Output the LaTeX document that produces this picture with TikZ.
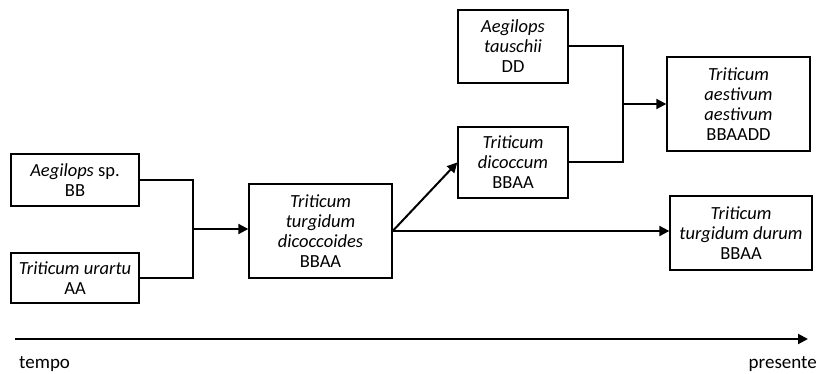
\documentclass[tikz,border=0pt]{standalone}
\usepackage{fontspec}
\setmainfont{Carlito}
\usetikzlibrary{arrows.meta}
\begin{document}
\begin{tikzpicture}[x=1pt,y=-1pt,
  box/.style={draw,line width=1.4pt,align=center,inner sep=1pt,font=\fontsize{18.5}{20}\selectfont},
  conn/.style={line width=2pt},
  arr/.style={conn,-{Triangle[length=10pt,width=10pt]}},
  lbl/.style={font=\fontsize{19}{22}\selectfont,inner sep=0pt}]
\useasboundingbox (0,0) rectangle (819,374);
\node[box,minimum width=128pt,minimum height=52pt] (asp) at (75,180) {\textit{Aegilops} sp.\\BB};
\node[box,minimum width=128pt,minimum height=50pt] (tur) at (75,278) {\textit{Triticum urartu}\\AA};
\node[box,minimum width=143pt,minimum height=94pt] (dic) at (320.5,231) {\textit{Triticum}\\\textit{turgidum}\\\textit{dicoccoides}\\BBAA};
\node[box,minimum width=110pt,minimum height=73pt] (tau) at (513,46.5) {\textit{Aegilops}\\\textit{tauschii}\\DD};
\node[box,minimum width=110pt,minimum height=71pt] (dcm) at (513,162.5) {\textit{Triticum}\\\textit{dicoccum}\\BBAA};
\node[box,minimum width=143pt,minimum height=94pt] (aes) at (738.5,104) {\textit{Triticum}\\\textit{aestivum}\\\textit{aestivum}\\BBAADD};
\node[box,minimum width=142pt,minimum height=74pt] (dur) at (741,233) {\textit{Triticum}\\\textit{turgidum durum}\\BBAA};
\coordinate (j1) at (193,229);
\coordinate (j2) at (623,104);
\draw[conn] (asp.east) -| (j1) |- (tur.east);
\draw[arr] (j1) -- (j1 -| dic.west);
\draw[conn] (tau.east) -| (j2) |- (dcm.east);
\draw[arr] (j2) -- (aes.west);
\draw[arr] (dic.east) -- (dcm.west);
\draw[arr] (dic.east) -- (dic.east -| dur.west);
\coordinate (t0) at (15,339);
\coordinate (t1) at (808,339);
\draw[arr] (t0) -- (t1);
\node[lbl,anchor=west] (tempo) at (19,364) {tempo};
\node[lbl,anchor=east] (pres) at (817,364) {presente};
\end{tikzpicture}
\end{document}
